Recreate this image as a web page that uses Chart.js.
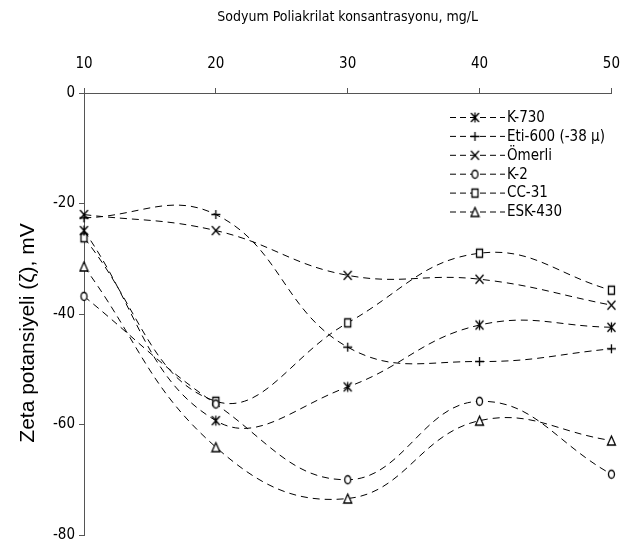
<!DOCTYPE html>
<html>
<head>
<meta charset="utf-8">
<script src="https://cdn.jsdelivr.net/npm/chart.js@4"></script>
<style>
html,body{margin:0;padding:0;background:#fff;}
#wrap{width:635px;height:548px;}
</style>
</head>
<body>
<div id="wrap"><canvas id="c" width="635" height="548"></canvas></div>
<script>
const concentrations = [10, 20, 30, 40, 50];
const xTicks = [10, 20, 30, 40, 50];
const yTicks = [0, -20, -40, -60, -80];
const seriesNames = ['K-730', 'Eti-600 (-38 µ)', 'Ömerli', 'K-2', 'CC-31', 'ESK-430'];
const k730   = [-24.9, -59.3, -53.2, -42.0, -42.4];
const eti600 = [-22.6, -22.0, -46.0, -48.6, -46.3];
const omerli = [-22.0, -24.9, -33.0, -33.7, -38.4];
const k2     = [-36.8, -56.3, -70.0, -55.8, -69.0];
const cc31   = [-26.2, -55.8, -41.6, -29.0, -35.7];
const esk430 = [-31.4, -64.1, -73.4, -59.3, -62.9];
const seriesValues = [k730, eti600, omerli, k2, cc31, esk430];
const markerKinds = ['asterisk', 'plus', 'x', 'circle', 'square', 'triangle'];
const xTitle = 'Sodyum Poliakrilat konsantrasyonu, mg/L';
const yTitle = 'Zeta potansiyeli (ζ), mV';

function marker(kind) {
  const c = document.createElement('canvas');
  c.width = 11; c.height = 13;
  const g = c.getContext('2d');
  g.strokeStyle = '#000'; g.fillStyle = '#fff'; g.lineWidth = 1.3;
  g.beginPath();
  if (kind === 'asterisk') {
    g.moveTo(1.5, 2); g.lineTo(9.5, 11);
    g.moveTo(9.5, 2); g.lineTo(1.5, 11);
    g.moveTo(5.5, 1.5); g.lineTo(5.5, 11.5);
    g.stroke();
  } else if (kind === 'plus') {
    g.moveTo(1, 6.5); g.lineTo(10, 6.5);
    g.moveTo(5.5, 2); g.lineTo(5.5, 11);
    g.stroke();
  } else if (kind === 'x') {
    g.moveTo(1.5, 2); g.lineTo(9.5, 11);
    g.moveTo(9.5, 2); g.lineTo(1.5, 11);
    g.stroke();
  } else if (kind === 'circle') {
    g.ellipse(5.5, 6.5, 3, 4, 0, 0, Math.PI * 2);
    g.fill(); g.stroke();
  } else if (kind === 'square') {
    g.rect(2.5, 2.5, 6, 8);
    g.fill(); g.stroke();
  } else if (kind === 'triangle') {
    g.moveTo(5.5, 2); g.lineTo(9.5, 11); g.lineTo(1.5, 11); g.closePath();
    g.fill(); g.stroke();
  }
  return c;
}
const markers = markerKinds.map(marker);

const FONT = "'DejaVu Sans Condensed', 'Liberation Sans Narrow', sans-serif";
const DASH = [7, 5];

const datasets = seriesNames.map((name, i) => ({
  label: name,
  data: concentrations.map((x, j) => ({x: x, y: seriesValues[i][j]})),
  borderColor: '#000',
  borderWidth: 1,
  borderDash: DASH,
  tension: 0.42,
  fill: false,
  pointStyle: markers[i],
  pointRadius: 5,
  pointHoverRadius: 5,
  clip: false
}));

const legendPlugin = {
  id: 'excelLegend',
  afterDraw(chart) {
    const ctx = chart.ctx;
    const x0 = 450, y0 = 117, dy = 18.9;
    ctx.save();
    chart.data.datasets.forEach((ds, i) => {
      const y = y0 + i * dy;
      ctx.strokeStyle = '#000';
      ctx.lineWidth = 1;
      ctx.setLineDash([6, 4]);
      ctx.beginPath();
      ctx.moveTo(x0, y + 0.5); ctx.lineTo(x0 + 55, y + 0.5);
      ctx.stroke();
      ctx.setLineDash([]);
      const img = ds.pointStyle;
      ctx.drawImage(img, x0 + 25 - img.width / 2, y - img.height / 2 + 0.5);
      ctx.fillStyle = '#000';
      ctx.font = '15px ' + FONT;
      ctx.textBaseline = 'middle';
      ctx.textAlign = 'left';
      ctx.fillText(ds.label, x0 + 57, y + 1);
    });
    // y-axis title
    ctx.translate(28, 333);
    ctx.rotate(-Math.PI / 2);
    ctx.font = "21px 'Liberation Sans', Arial, sans-serif";
    ctx.textAlign = 'center';
    ctx.textBaseline = 'middle';
    ctx.fillText(yTitle, 0, 0);
    ctx.restore();
  }
};

new Chart(document.getElementById('c'), {
  type: 'line',
  data: { datasets: datasets },
  options: {
    responsive: false,
    animation: false,
    events: [],
    layout: { padding: { left: 0, right: 19, top: 0, bottom: 10 } },
    plugins: { legend: { display: false }, tooltip: { enabled: false } },
    scales: {
      x: {
        type: 'linear',
        position: 'top',
        min: 10, max: 50,
        afterBuildTicks: s => { s.ticks = xTicks.map(v => ({value: v})); },
        afterFit: s => { s.height = 93; },
        ticks: { color: '#000', font: { family: FONT, size: 15 }, padding: 15, maxRotation: 0 },
        grid: { drawOnChartArea: false, drawTicks: true, tickLength: 5, color: '#555' },
        border: { color: '#555', width: 1 },
        title: { display: true, text: xTitle, color: '#000',
                 font: { family: FONT, size: 14 }, padding: { top: 9, bottom: 0 } }
      },
      y: {
        type: 'linear',
        min: -80, max: 0,
        afterBuildTicks: s => { s.ticks = yTicks.map(v => ({value: v})); },
        afterFit: s => { s.width = 84; },
        ticks: { color: '#000', font: { family: FONT, size: 15 }, padding: 4 },
        grid: { drawOnChartArea: false, drawTicks: true, tickLength: 5, color: '#555' },
        border: { color: '#555', width: 1 },
        title: { display: false }
      }
    }
  },
  plugins: [legendPlugin]
});
</script>
</body>
</html>
